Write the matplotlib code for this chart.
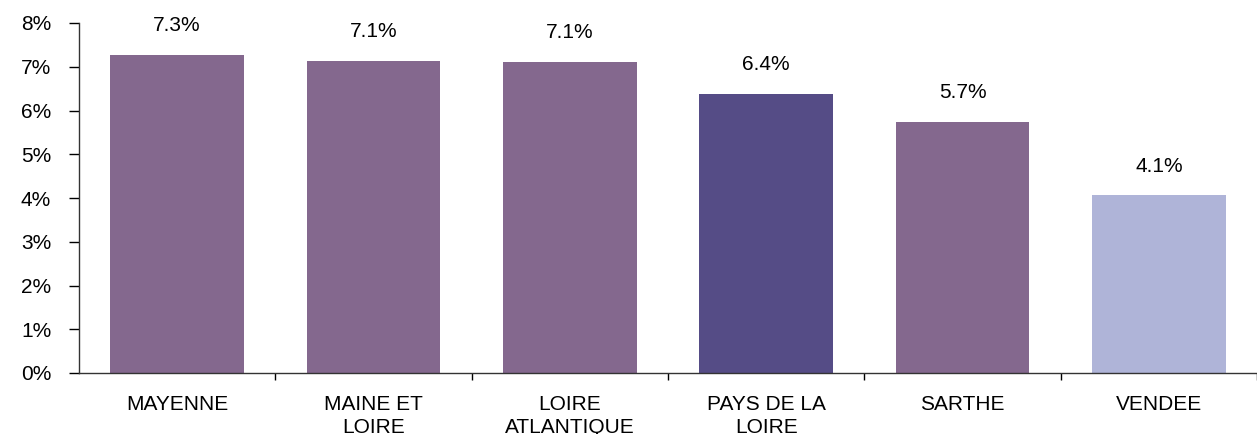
import numpy as np
import matplotlib.pyplot as plt

plt.rcParams['font.family'] = ['Liberation Sans', 'DejaVu Sans']

regions = ['MAYENNE', 'MAINE ET\nLOIRE', 'LOIRE\nATLANTIQUE', 'PAYS DE LA\nLOIRE',
           'SARTHE', 'VENDEE']
rates = [7.27, 7.13, 7.11, 6.38, 5.74, 4.06]
colors = ['#84688e', '#84688e', '#84688e', '#554c86', '#84688e', '#afb4d8']

fig = plt.figure(figsize=(12.57, 4.34), dpi=100)
ax = fig.add_axes([79/1257, 61/434, 1 - 79/1257, 350/434])

x = np.arange(len(regions))
bars = ax.bar(x, rates, width=0.68, color=colors)
for xi, v in zip(x, rates):
    ax.annotate('{0:.1f}%'.format(v), xy=(xi, v), xytext=(0, 21),
                textcoords='offset points', ha='center', va='center',
                fontsize=15, color='black')

ax.set_xlim(-0.5, 5.5)
ax.set_ylim(0, 8)
ax.set_yticks(range(0, 9))
ax.set_yticklabels(['{0}%'.format(i) for i in range(0, 9)], fontsize=15)
ax.tick_params(axis='y', length=7, width=1, pad=13, colors='black')

ax.set_xticks(x)
ax.set_xticklabels(regions, fontsize=15, linespacing=1.22)
ax.tick_params(axis='x', which='major', length=0, pad=16)
ax.set_xticks(np.arange(0.5, 5.6, 1), minor=True)
ax.tick_params(axis='x', which='minor', length=5, width=1)

for s in ['top', 'right']:
    ax.spines[s].set_visible(False)
for s in ['left', 'bottom']:
    ax.spines[s].set_color('#333333')
    ax.spines[s].set_linewidth(1)

fig.savefig('out.png', dpi=100)
